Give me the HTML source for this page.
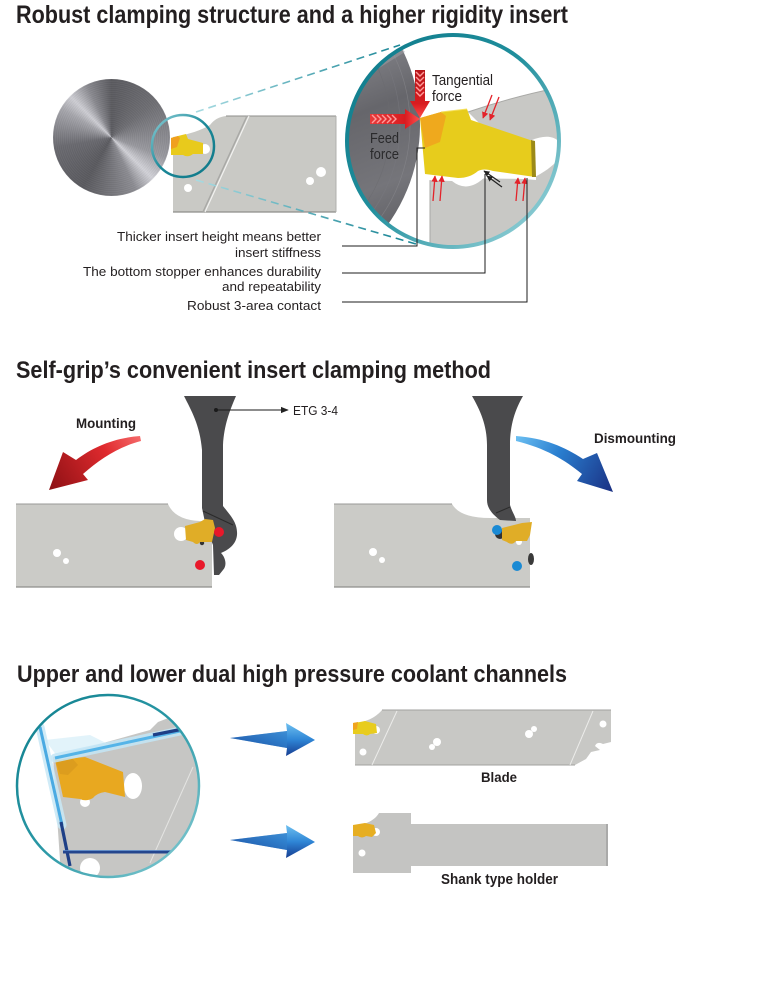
<!DOCTYPE html>
<html>
<head>
<meta charset="utf-8">
<style>
  html,body{margin:0;padding:0;background:#fff;}
  #wrap{position:relative;width:765px;height:1000px;overflow:hidden;background:#fff;}
  #disc{position:absolute;left:53px;top:79px;width:117px;height:117px;border-radius:50%;
    background:
      repeating-radial-gradient(circle at 50% 50%, rgba(255,255,255,0.05) 0px, rgba(0,0,0,0.05) 1px, rgba(255,255,255,0.03) 2px),
      conic-gradient(from 0deg, #5b5b60 0deg, #6e6e73 50deg, #9a9aa0 110deg, #d4d4da 135deg, #8d8d93 155deg, #5a5a5f 210deg, #6a6a70 260deg, #a7a7ad 300deg, #d0d0d6 315deg, #8a8a90 335deg, #5b5b60 360deg);}
  svg{position:absolute;left:0;top:0;}
  text{font-family:"Liberation Sans", Arial, sans-serif;}
</style>
</head>
<body>
<div id="wrap">
<div id="disc"></div>
<svg width="765" height="1000" viewBox="0 0 765 1000" xmlns="http://www.w3.org/2000/svg">
<defs>
  <clipPath id="bigc"><circle cx="453" cy="141" r="105"/></clipPath>
  <clipPath id="c3"><circle cx="108" cy="786" r="90"/></clipPath>
  <linearGradient id="ringBig" x1="347" y1="40" x2="560" y2="245" gradientUnits="userSpaceOnUse">
    <stop offset="0" stop-color="#0e7a8a"/>
    <stop offset="0.45" stop-color="#1f8e9c"/>
    <stop offset="1" stop-color="#a6dbe1"/>
  </linearGradient>
  <linearGradient id="ringSm" x1="152" y1="115" x2="214" y2="178" gradientUnits="userSpaceOnUse">
    <stop offset="0" stop-color="#8fd0d8"/>
    <stop offset="0.5" stop-color="#1a8898"/>
    <stop offset="1" stop-color="#0f7787"/>
  </linearGradient>
  <linearGradient id="ring3" x1="17" y1="695" x2="199" y2="877" gradientUnits="userSpaceOnUse">
    <stop offset="0" stop-color="#0f7f8d"/>
    <stop offset="0.5" stop-color="#2a98a6"/>
    <stop offset="1" stop-color="#8ccfd6"/>
  </linearGradient>
  <linearGradient id="dash1" x1="195" y1="0" x2="400" y2="0" gradientUnits="userSpaceOnUse">
    <stop offset="0" stop-color="#a8dbe2"/>
    <stop offset="1" stop-color="#1c8797"/>
  </linearGradient>
  <linearGradient id="bigDisc" x1="340" y1="40" x2="420" y2="240" gradientUnits="userSpaceOnUse">
    <stop offset="0" stop-color="#8a8a90"/>
    <stop offset="0.35" stop-color="#66666b"/>
    <stop offset="0.7" stop-color="#75757a"/>
    <stop offset="1" stop-color="#5a5a5f"/>
  </linearGradient>
  <linearGradient id="redV" x1="0" y1="70" x2="0" y2="118" gradientUnits="userSpaceOnUse">
    <stop offset="0" stop-color="#b5161a"/>
    <stop offset="0.7" stop-color="#d81c20"/>
    <stop offset="1" stop-color="#ff4a4a"/>
  </linearGradient>
  <linearGradient id="redH" x1="370" y1="0" x2="420" y2="0" gradientUnits="userSpaceOnUse">
    <stop offset="0" stop-color="#e83a3a"/>
    <stop offset="0.7" stop-color="#d81c20"/>
    <stop offset="1" stop-color="#ff5050"/>
  </linearGradient>
  <linearGradient id="mountG" x1="140" y1="436" x2="49" y2="490" gradientUnits="userSpaceOnUse">
    <stop offset="0" stop-color="#f56a6a"/>
    <stop offset="0.35" stop-color="#e02a2e"/>
    <stop offset="1" stop-color="#8c1014"/>
  </linearGradient>
  <linearGradient id="dismG" x1="516" y1="436" x2="613" y2="492" gradientUnits="userSpaceOnUse">
    <stop offset="0" stop-color="#6cc0f2"/>
    <stop offset="0.4" stop-color="#2a7fd0"/>
    <stop offset="1" stop-color="#1a2f82"/>
  </linearGradient>
  <linearGradient id="blueArr" x1="0" y1="0" x2="0" y2="1">
    <stop offset="0" stop-color="#6ec0f0"/>
    <stop offset="0.5" stop-color="#2f86d6"/>
    <stop offset="1" stop-color="#173e92"/>
  </linearGradient>
  <linearGradient id="blueArr2" x1="230" y1="0" x2="315" y2="0" gradientUnits="userSpaceOnUse">
    <stop offset="0" stop-color="#1b4596" stop-opacity="0.9"/>
    <stop offset="1" stop-color="#3c9ae2"/>
  </linearGradient>
  <marker id="arR" viewBox="0 0 10 10" refX="9" refY="5" markerWidth="5" markerHeight="5" orient="auto">
    <path d="M0,0 L10,5 L0,10 Z" fill="#e3232a"/>
  </marker>
  <marker id="arK" viewBox="0 0 10 10" refX="9" refY="5" markerWidth="5" markerHeight="5" orient="auto">
    <path d="M0,0 L10,5 L0,10 Z" fill="#222"/>
  </marker>
  <marker id="arK2" viewBox="0 0 10 10" refX="9" refY="5" markerWidth="8" markerHeight="8" orient="auto">
    <path d="M0,1 L10,5 L0,9 Z" fill="#222"/>
  </marker>
</defs>

<!-- ================= SECTION 1 ================= -->
<text x="16" y="23" font-size="25" font-weight="bold" fill="#231f20" textLength="552" lengthAdjust="spacingAndGlyphs">Robust clamping structure and a higher rigidity insert</text>

<!-- blade 1 -->
<path d="M173,137 C186,135 200,131 210,125 Q216,117 226,116 L336,116 L336,212 L173,212 Z" fill="#c9c9c5"/>
<path d="M226,116 L336,116" stroke="#8e8e8b" stroke-width="1"/>
<path d="M173,212 L336,212" stroke="#8e8e8b" stroke-width="1.2"/>
<path d="M336,116 L336,212" stroke="#b0b0ad" stroke-width="1"/>
<path d="M247,116 L203,212" stroke="#a9a9a6" stroke-width="1.5"/>
<path d="M249,116 L205,212" stroke="#f2f2f0" stroke-width="1.2"/>
<circle cx="205" cy="149" r="5" fill="#fff"/>
<circle cx="188" cy="188" r="4" fill="#fff"/>
<circle cx="310" cy="181" r="4" fill="#fff"/>
<circle cx="321" cy="172" r="5" fill="#fff"/>
<!-- insert small -->
<path d="M171,138 L178,136 L186,134 L188,139 L203,143 L203,154 L193,154 Q188,158 183,155 L171,155 Z" fill="#e8ca1c"/>
<path d="M171,138 L178,136 L180,138 L177,147 L171,149 Z" fill="#f0a01e"/>

<!-- small ring -->
<circle cx="183" cy="146" r="31" fill="none" stroke="url(#ringSm)" stroke-width="2.5"/>

<!-- dashed lines -->
<path d="M196,112 L400,45" stroke="url(#dash1)" stroke-width="1.6" stroke-dasharray="8,5" fill="none"/>
<path d="M196,180 L416,244" stroke="url(#dash1)" stroke-width="1.6" stroke-dasharray="8,5" fill="none"/>

<!-- big circle content -->
<g clip-path="url(#bigc)">
  <rect x="340" y="30" width="230" height="230" fill="#fff"/>
  <circle cx="250" cy="125" r="170" fill="url(#bigDisc)"/>
  <circle cx="250" cy="125" r="150" fill="none" stroke="#7a7a80" stroke-width="0.7" opacity="0.6"/>
  <circle cx="250" cy="125" r="160" fill="none" stroke="#8a8a90" stroke-width="0.7" opacity="0.6"/>
  <circle cx="250" cy="125" r="140" fill="none" stroke="#6a6a70" stroke-width="0.7" opacity="0.6"/>
  <path d="M350,60 L395,40 L405,52 L360,80 Z" fill="#a0a0a6" opacity="0.5"/>
  <!-- gray blade region -->
  <path d="M468,112 C500,101 530,93 566,86 L566,260 L430,260 L430,178 L535,179 Z" fill="#c8c8c5"/>
  <path d="M468,112 C500,101 530,93 566,86" stroke="#a9a9a6" stroke-width="1" fill="none"/>
  <path d="M430,178 L430,260" stroke="#a9a9a6" stroke-width="1"/>
  <!-- cavity right of insert -->
  <path d="M532,140 C546,134 560,136 561,148 C562,161 548,170 533,178 Z" fill="#fff"/>
  <!-- white under insert -->
  <path d="M426,174 L426,180 L452,181 Q468,194 486,176 L536,180 L536,176 L426,172 Z" fill="#fff"/>
  <!-- insert large -->
  <path d="M420,118 L441,112 L467,109 L471,120 L533,141 L535,177 L493,171 Q484,168 478,171 Q470,178 458,178 L425,174 Z" fill="#e7cc1c"/>
  <path d="M420,118 L441,112 L446,116 L440,142 L425,148 Z" fill="#efa91d"/>
  <path d="M531,140 L535,141 L536,177 L532,177 Z" fill="#9c8a18"/>
  <path d="M441,112 L467,109" stroke="#f5e060" stroke-width="1"/>
</g>
<circle cx="453" cy="141" r="106" fill="none" stroke="url(#ringBig)" stroke-width="4"/>

<!-- force arrows -->
<path d="M415,70 L425,70 L425,101 L430,101 L420,118 L410,101 L415,101 Z" fill="url(#redV)"/>
<g stroke="#ff9a9a" stroke-width="1.4" fill="none">
  <polyline points="416,72 420,76 424,72"/>
  <polyline points="416,77 420,81 424,77"/>
  <polyline points="416,82 420,86 424,82"/>
  <polyline points="416,87 420,91 424,87"/>
  <polyline points="416,92 420,96 424,92"/>
</g>
<path d="M370,114 L405,114 L405,109 L420,119 L405,129 L405,124 L370,124 Z" fill="url(#redH)"/>
<g stroke="#ff9a9a" stroke-width="1.4" fill="none">
  <polyline points="372,115 376,119 372,123"/>
  <polyline points="377,115 381,119 377,123"/>
  <polyline points="382,115 386,119 382,123"/>
  <polyline points="387,115 391,119 387,123"/>
  <polyline points="392,115 396,119 392,123"/>
</g>
<text x="432" y="85" font-size="14.5" fill="#231f20" textLength="61" lengthAdjust="spacingAndGlyphs">Tangential</text>
<text x="432" y="101" font-size="14.5" fill="#231f20" textLength="30" lengthAdjust="spacingAndGlyphs">force</text>
<text x="370" y="143" font-size="14.5" fill="#2a2a2c" textLength="29" lengthAdjust="spacingAndGlyphs">Feed</text>
<text x="370" y="159" font-size="14.5" fill="#2a2a2c" textLength="29" lengthAdjust="spacingAndGlyphs">force</text>

<!-- small red arrows -->
<g stroke="#e3232a" stroke-width="1.3" fill="none">
  <line x1="492" y1="95" x2="483" y2="118" marker-end="url(#arR)"/>
  <line x1="499" y1="97" x2="490" y2="120" marker-end="url(#arR)"/>
  <line x1="433" y1="201" x2="435" y2="176" marker-end="url(#arR)"/>
  <line x1="440" y1="201" x2="442" y2="176" marker-end="url(#arR)"/>
  <line x1="516" y1="201" x2="518" y2="178" marker-end="url(#arR)"/>
  <line x1="523" y1="201" x2="525" y2="178" marker-end="url(#arR)"/>
</g>
<g stroke="#222" stroke-width="1.2" fill="none">
  <line x1="500" y1="182" x2="484" y2="171" marker-end="url(#arK)"/>
  <line x1="502" y1="187" x2="487" y2="176" marker-end="url(#arK)"/>
</g>

<!-- leader lines -->
<g stroke="#1e1e1e" stroke-width="1" fill="none">
  <polyline points="342,246 417,246 417,148 425,148"/>
  <polyline points="342,273 485,273 485,174"/>
  <polyline points="342,302 527,302 527,178"/>
</g>
<g font-size="13" fill="#231f20">
  <text x="117" y="241" textLength="204" lengthAdjust="spacingAndGlyphs">Thicker insert height means better</text>
  <text x="235" y="257" textLength="86" lengthAdjust="spacingAndGlyphs">insert stiffness</text>
  <text x="83" y="276" textLength="238" lengthAdjust="spacingAndGlyphs">The bottom stopper enhances durability</text>
  <text x="222" y="291" textLength="99" lengthAdjust="spacingAndGlyphs">and repeatability</text>
  <text x="187" y="310" textLength="134" lengthAdjust="spacingAndGlyphs">Robust 3-area contact</text>
</g>

<!-- ================= SECTION 2 ================= -->
<text x="16" y="378" font-size="24.5" font-weight="bold" fill="#231f20" textLength="475" lengthAdjust="spacingAndGlyphs">Self-grip’s convenient insert clamping method</text>

<!-- left blade -->
<path d="M16,504 L168,504 Q175,520 200,521 L212,521 L212,587 L16,587 Z" fill="#cbcbc7"/>
<path d="M16,504 L168,504" stroke="#9a9a97" stroke-width="1"/>
<path d="M16,587 L212,587" stroke="#8e8e8b" stroke-width="1.2"/>
<circle cx="57" cy="553" r="4" fill="#fff"/>
<circle cx="66" cy="561" r="3" fill="#fff"/>
<!-- tool left -->
<path d="M184,396 L236,396 C230,410 224,425 223,445 L223,506 C229,514 238,522 237,535 C236,545 228,550 221,553 C226,558 227,566 223,570 L219,575 L214,575 L213,545 L206,527 L202,508 L202,450 C200,425 191,410 184,396 Z" fill="#4a4a4c"/>
<path d="M203,511 L233,525" stroke="#2a2a2a" stroke-width="1"/>
<circle cx="181" cy="534" r="7" fill="#fff"/>
<circle cx="202" cy="543" r="2.2" fill="#333"/>
<path d="M185,526 L200,522 L205,519 L213,520 L215,528 L212,542 L200,542 Q197,546 193,542 L186,540 Z" fill="#e0ad27"/>
<circle cx="219" cy="532" r="5" fill="#e8182a"/>
<circle cx="200" cy="565" r="5" fill="#e8182a"/>
<!-- ETG label -->
<circle cx="216" cy="410" r="2" fill="#1a1a1a"/>
<line x1="216" y1="410" x2="288" y2="410" stroke="#1a1a1a" stroke-width="1" marker-end="url(#arK2)"/>
<text x="293" y="415" font-size="12.5" fill="#231f20" textLength="45" lengthAdjust="spacingAndGlyphs">ETG 3-4</text>
<!-- Mounting -->
<text x="76" y="428" font-size="14" font-weight="bold" fill="#231f20" textLength="60" lengthAdjust="spacingAndGlyphs">Mounting</text>
<path d="M140,436 C114,438 93,447 76,460 L63,452 L49,490 L88,480 L83,474 C100,459 118,447 141,441 Z" fill="url(#mountG)"/>

<!-- right blade -->
<path d="M334,504 L452,504 Q460,518 490,518 L530,518 L530,587 L334,587 Z" fill="#cbcbc7"/>
<path d="M334,504 L452,504" stroke="#9a9a97" stroke-width="1"/>
<path d="M334,587 L530,587" stroke="#8e8e8b" stroke-width="1.2"/>
<circle cx="373" cy="552" r="4" fill="#fff"/>
<circle cx="382" cy="560" r="3" fill="#fff"/>
<path d="M472,396 L523,396 C515,410 510,425 510,445 L510,505 C512,512 516,517 516,521 L500,520 C492,514 487,508 487,500 L487,445 C487,425 480,410 472,396 Z" fill="#4a4a4c"/>
<path d="M496,513 L510,507" stroke="#2a2a2a" stroke-width="1"/>
<circle cx="500" cy="534" r="5" fill="#333"/>
<ellipse cx="531" cy="559" rx="3" ry="6" fill="#3a3a3a"/>
<circle cx="519" cy="542" r="3" fill="#fff"/>
<path d="M502,528 L514,525 L522,523 L532,522 L530,535 L527,541 L516,541 Q512,546 507,542 L502,540 Z" fill="#e0ad27"/>
<circle cx="497" cy="530" r="5" fill="#1a8ad4"/>
<circle cx="517" cy="566" r="5" fill="#1a8ad4"/>
<text x="594" y="443" font-size="14" font-weight="bold" fill="#231f20" textLength="82" lengthAdjust="spacingAndGlyphs">Dismounting</text>
<path d="M516,436 C544,438 565,447 583,459 L597,453 L613,492 L577,481 L582,474 C565,460 545,448 516,441 Z" fill="url(#dismG)"/>

<!-- ================= SECTION 3 ================= -->
<text x="17" y="682" font-size="24.5" font-weight="bold" fill="#231f20" textLength="550" lengthAdjust="spacingAndGlyphs">Upper and lower dual high pressure coolant channels</text>

<g clip-path="url(#c3)">
  <rect x="15" y="692" width="190" height="190" fill="#fff"/>
  <path d="M53,757 L150,730 L158,722 L215,700 L215,890 L62,890 Z" fill="#c6c6c4"/>
  <line x1="193" y1="767" x2="150" y2="863" stroke="#e4e4e2" stroke-width="1"/>
  <ellipse cx="133" cy="786" rx="9" ry="13" fill="#fff"/>
  <circle cx="90" cy="868" r="10" fill="#fff"/>
  <circle cx="85" cy="802" r="5" fill="#fff"/>
  <path d="M55,760 L85,757 L123,772 L125,797 L105,792 Q97,793 93,798 Q86,802 80,799 L63,797 Z" fill="#e8a820"/>
  <path d="M55,760 L72,758 L78,765 L68,775 L60,774 Z" fill="#d89a1e" opacity="0.8"/>
  <!-- coolant glow -->
  <path d="M45,740 L60,760 L110,745 L90,735 Z" fill="#d6eef8" opacity="0.7"/>
  <line x1="55" y1="758" x2="180" y2="731" stroke="#c4e6f6" stroke-width="9" stroke-linecap="round" opacity="0.85"/>
  <line x1="55" y1="758" x2="180" y2="731" stroke="#55b4e8" stroke-width="3"/>
  <line x1="153" y1="735" x2="183" y2="729" stroke="#1e3f86" stroke-width="3.2"/>
  <line x1="40" y1="727" x2="62" y2="825" stroke="#c8e8f6" stroke-width="9" stroke-linecap="round" opacity="0.85"/>
  <line x1="40" y1="727" x2="62" y2="825" stroke="#4aaae2" stroke-width="3"/>
  <line x1="61" y1="822" x2="70" y2="866" stroke="#1e3f86" stroke-width="3.2"/>
  <line x1="63" y1="852" x2="172" y2="852" stroke="#24468e" stroke-width="3"/>
  <line x1="63" y1="850.5" x2="172" y2="850.5" stroke="#5c8ed0" stroke-width="0.8"/>
</g>
<circle cx="108" cy="786" r="91" fill="none" stroke="url(#ring3)" stroke-width="2.5"/>

<!-- blue arrows -->
<path d="M230,738 L287,731 L286,723 L315,740 L286,756 L287,748 Z" fill="url(#blueArr)"/>
<path d="M230,738 L287,731 L287,748 Z" fill="url(#blueArr2)" opacity="0.6"/>
<path d="M230,840 L287,833 L286,825 L315,842 L286,858 L287,850 Z" fill="url(#blueArr)"/>
<path d="M230,840 L287,833 L287,850 Z" fill="url(#blueArr2)" opacity="0.6"/>

<!-- blade -->
<path d="M355,723 C368,722 377,716 382,710 L611,710 L611,742 L603,744 Q597,741 595,746 L600,750 L591,752 L586,759 L575,765 L355,765 Z" fill="#c8c8c5"/>
<path d="M382,710 L611,710" stroke="#a2a29f" stroke-width="1"/>
<path d="M355,765 L575,765" stroke="#a2a29f" stroke-width="1"/>
<line x1="397" y1="711" x2="372" y2="765" stroke="#ececea" stroke-width="1"/>
<line x1="593" y1="711" x2="570" y2="765" stroke="#ececea" stroke-width="1"/>
<circle cx="363" cy="752" r="3.5" fill="#fff"/>
<circle cx="437" cy="742" r="4" fill="#fff"/>
<circle cx="432" cy="747" r="3" fill="#fff"/>
<circle cx="529" cy="734" r="4" fill="#fff"/>
<circle cx="534" cy="729" r="3" fill="#fff"/>
<circle cx="603" cy="724" r="3.5" fill="#fff"/>
<circle cx="376" cy="730" r="4" fill="#fff"/>
<path d="M353,723 L360,722 L365,721 L376,724 L377,733 L370,734 Q367,737 363,734 L353,734 Z" fill="#e8cc1e"/>
<path d="M353,723 L358,722 L357,729 L353,730 Z" fill="#f0a41e"/>
<text x="481" y="782" font-size="14" font-weight="bold" fill="#231f20" textLength="36" lengthAdjust="spacingAndGlyphs">Blade</text>

<!-- shank holder -->
<path d="M353,826 C366,825 375,820 379,813 L411,813 L411,824 L608,824 L608,866 L411,866 L411,873 L353,873 Z" fill="#c4c4c2"/>
<path d="M607,824 L607,866" stroke="#9a9a98" stroke-width="1.2"/>
<circle cx="376" cy="832" r="4" fill="#fff"/>
<circle cx="362" cy="853" r="3.5" fill="#fff"/>
<path d="M353,825 L365,823 L374,825 L376,833 L372,837 L366,836 Q362,839 358,836 L353,836 Z" fill="#e6ae22"/>
<text x="441" y="884" font-size="15" font-weight="bold" fill="#231f20" textLength="117" lengthAdjust="spacingAndGlyphs">Shank type holder</text>
</svg>
</div>
</body>
</html>
